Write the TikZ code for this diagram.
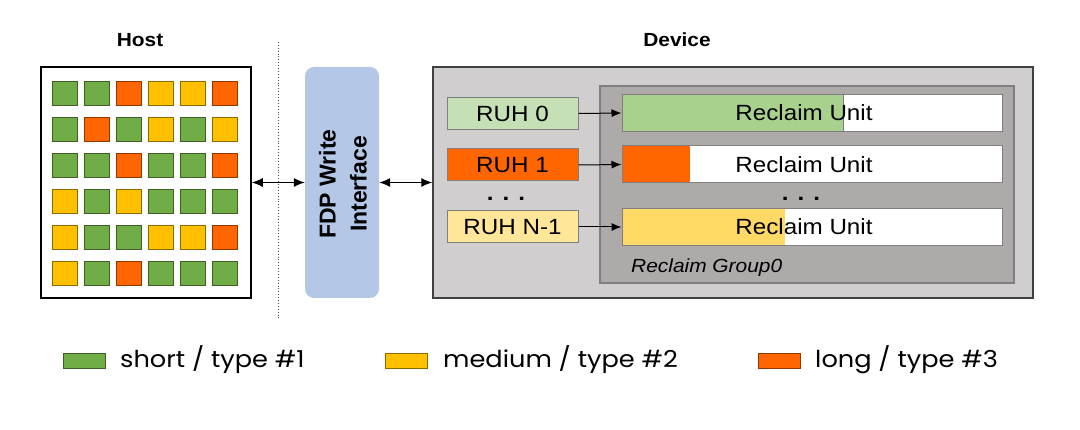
\documentclass[tikz,border=0pt]{standalone}
\usepackage{fontspec}
\setmainfont[FakeStretch=1.1]{Liberation Sans}
\newfontfamily\fdpfont{Liberation Sans}
\newfontfamily\poppins[FakeStretch=1.1]{Poppins}
\usetikzlibrary{arrows.meta,calc}
\definecolor{cg}{HTML}{70AD47}
\definecolor{cy}{HTML}{FFC000}
\definecolor{co}{HTML}{FF6600}
\definecolor{lgreen}{HTML}{C5E0B4}
\definecolor{mgreen}{HTML}{A9D18E}
\definecolor{lyellow}{HTML}{FFE699}
\definecolor{myellow}{HTML}{FFD966}
\definecolor{devgray}{HTML}{D0CECE}
\definecolor{grpgray}{HTML}{AEAAAA}
\definecolor{fdpblue}{HTML}{B4C7E7}
\definecolor{edgegray}{HTML}{7F7F7F}
\tikzset{
  sq/.style={rectangle,inner sep=0pt,minimum width=25pt,minimum height=24pt,line width=0.8pt},
  legsq/.style={rectangle,inner sep=0pt,minimum width=42pt,minimum height=15pt,line width=0.8pt},
  ruh/.style={rectangle,inner sep=0pt,minimum width=131pt,minimum height=32pt,draw=edgegray,line width=1pt,font=\fontsize{22}{24}\selectfont},
  rubar/.style={rectangle,inner sep=0pt,minimum width=380pt,minimum height=37pt,draw=edgegray,line width=1pt,fill=white},
  lbl/.style={font=\fontsize{22}{24}\selectfont},
  head/.style={font=\bfseries\fontsize{19}{22}\selectfont},
  leg/.style={font=\poppins\fontsize{23.3}{26}\selectfont,anchor=base west,inner sep=0pt},
  arr/.style={line width=1pt,-{Latex[length=10pt,width=8pt]}},
  darr/.style={line width=1.1pt,{Latex[length=11pt,width=9pt]}-{Latex[length=11pt,width=9pt]}},
  dots/.style={font=\bfseries\fontsize{22}{24}\selectfont,inner sep=0pt}
}
\begin{document}
\begin{tikzpicture}[x=1pt,y=-1pt]
\useasboundingbox (0,0) rectangle (1080,430);
% headers
\node[head] (hostlbl) at (140,40) {Host};
\node[head] (devlbl) at (677,40) {Device};
% host box
\node[rectangle,draw=black,line width=1.5pt,fill=white,minimum width=210pt,minimum height=231pt,inner sep=0pt] (host) at (146,182.5) {};
\foreach \c [count=\i from 0] in {cg,cg,co,cy,cy,co, cg,co,cg,cy,cg,cy, cg,cg,co,cg,cg,co, cy,cg,cy,cg,cg,cg, cy,cg,cg,cy,cy,co, cy,cg,co,cg,cg,cg}{
  \pgfmathtruncatemacro{\col}{mod(\i,6)}
  \pgfmathtruncatemacro{\row}{int(\i/6)}
  \node[sq,fill=\c,draw=\c!55!black] (sq\i) at ({64.5+32*\col},{93+36*\row}) {};
}
% separator
\coordinate (septop) at (278,42);
\coordinate (sepbot) at (278,318);
\draw[dotted,line width=0.9pt,black!70] (septop) -- (sepbot);
% FDP
\node[rectangle,rounded corners=9pt,fill=fdpblue,minimum width=74pt,minimum height=231pt,inner sep=0pt] (fdp) at (342,182.5) {};
\node[rotate=90,align=center,font=\fdpfont\bfseries\fontsize{23}{31}\selectfont] (fdptext) at (343,184) {FDP Write\\Interface};
% device
\node[rectangle,draw=black!75,line width=1.5pt,fill=devgray,minimum width=600pt,minimum height=231pt,inner sep=0pt] (dev) at (733,182.5) {};
\draw[darr] (host.east) -- (fdp.west);
\draw[darr] (fdp.east) -- (dev.west);
% reclaim group
\node[rectangle,draw=edgegray,line width=1.2pt,fill=grpgray,minimum width=414pt,minimum height=197pt,inner sep=0pt] (grp) at (807,184.5) {};
\node[font=\itshape\fontsize{19}{22}\selectfont,anchor=west,inner sep=0pt] (grplbl) at (631,268) {Reclaim Group0};
% RUH
\node[ruh,fill=lgreen] (ruh0) at (512.5,113.5) {RUH 0};
\node[ruh,fill=co] (ruh1) at (512.5,165) {RUH 1};
\node[dots] (ruhdots) at (506,199) {. . .};
\node[ruh,fill=lyellow] (ruhn) at (512.5,227) {RUH N-1};
% reclaim units
\node[rubar] (ru0) at (812,113) {};
\fill[mgreen] (ru0.north west) rectangle (843,132);
\node[rubar,fill=none] at (ru0) {};
\draw[edgegray,line width=1pt] (843,94) -- (843,132);
\node[lbl] (ru0t) at (804,113) {Reclaim Unit};
\node[rubar] (ru1) at (812,164.5) {};
\fill[co] (ru1.north west) rectangle (690,183);
\node[rubar,fill=none] at (ru1) {};
\node[lbl] (ru1t) at (804,164.5) {Reclaim Unit};
\node[dots] (rudots) at (801,199) {. . .};
\node[rubar] (ru2) at (812,227) {};
\fill[myellow] (ru2.north west) rectangle (785,245.5);
\node[rubar,fill=none] at (ru2) {};
\node[lbl] (ru2t) at (804,227) {Reclaim Unit};
\draw[arr] (ruh0.east) -- (ru0.west);
\draw[arr] (ruh1.east) -- (ru1.west);
\draw[arr] (ruhn.east) -- (ru2.west);
% legend
\node[legsq,fill=cg,draw=cg!55!black] (leg1) at (84,360.5) {};
\node[leg] (leg1t) at (120,368) {short / type \#1};
\node[legsq,fill=cy,draw=cy!55!black] (leg2) at (406,360.5) {};
\node[leg] (leg2t) at (443,368) {medium / type \#2};
\node[legsq,fill=co,draw=co!55!black] (leg3) at (779,360.5) {};
\node[leg] (leg3t) at (815,368) {long / type \#3};
\end{tikzpicture}
\end{document}
